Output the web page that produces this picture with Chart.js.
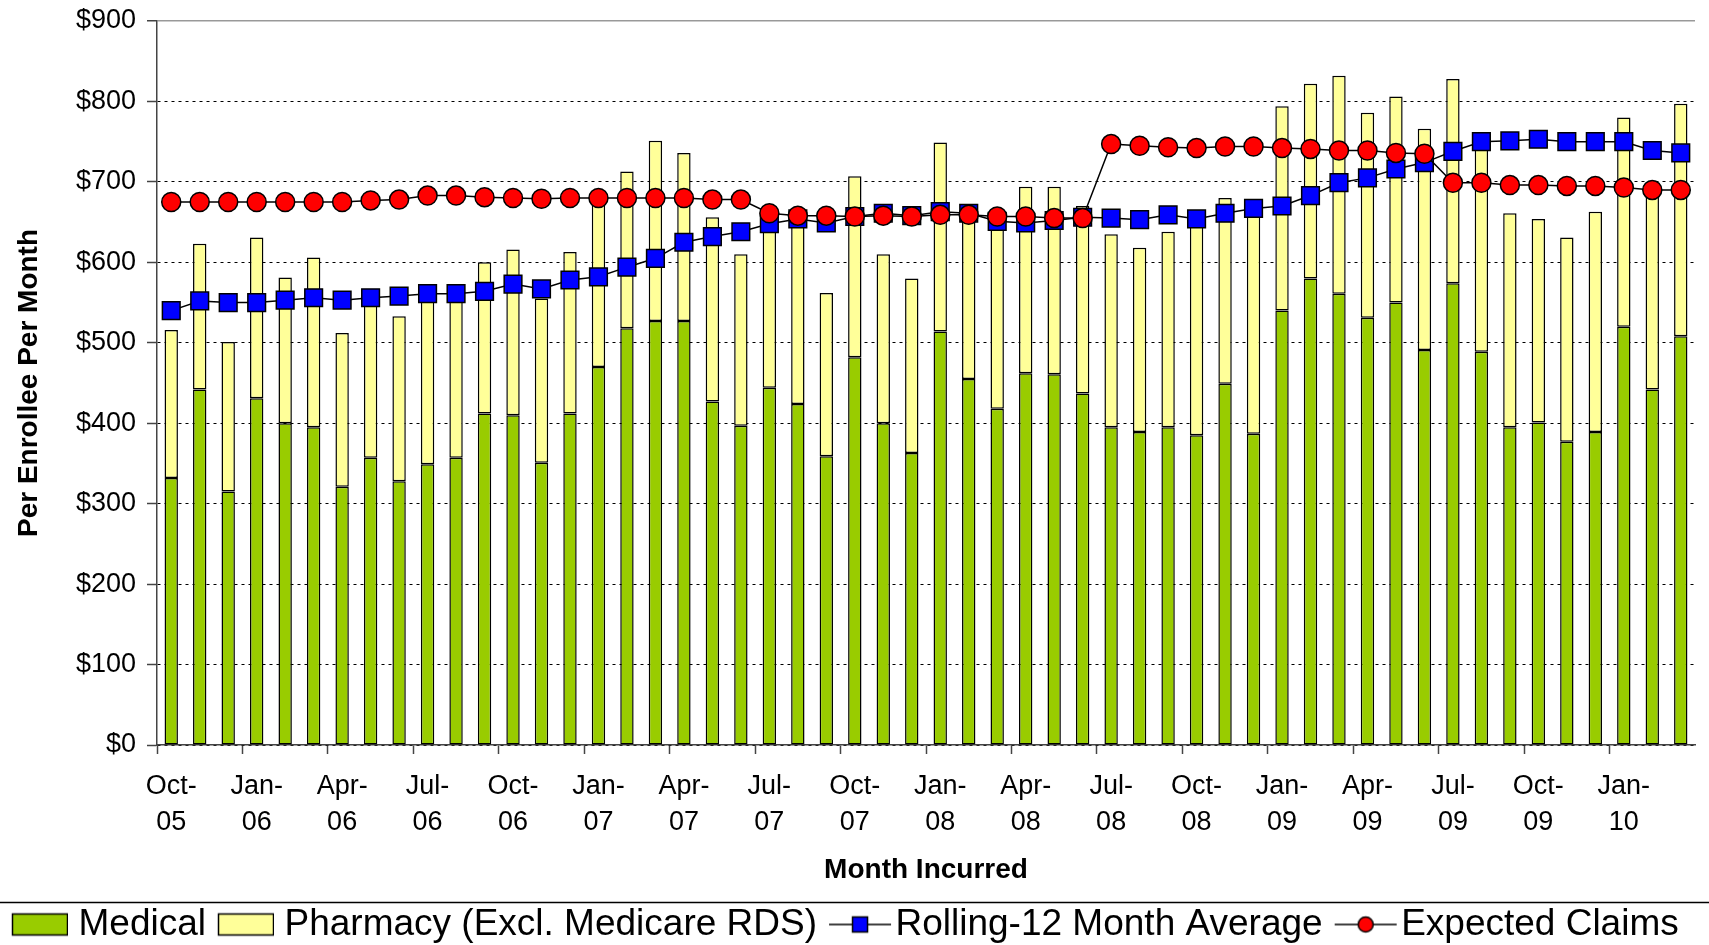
<!DOCTYPE html>
<html>
<head>
<meta charset="utf-8">
<script src="https://cdn.jsdelivr.net/npm/chart.js@4.4.0/dist/chart.umd.min.js"></script>
<style>
  html, body { margin: 0; padding: 0; background: #fff; }
  #wrap { width: 1709px; height: 945px; position: relative; }
</style>
</head>
<body>
<div id="wrap"><canvas id="chart"></canvas></div>
<script>
// Month incurred, Oct-05 .. Mar-10
const months = [
  'Oct-05','Nov-05','Dec-05','Jan-06','Feb-06','Mar-06','Apr-06','May-06','Jun-06',
  'Jul-06','Aug-06','Sep-06','Oct-06','Nov-06','Dec-06','Jan-07','Feb-07','Mar-07',
  'Apr-07','May-07','Jun-07','Jul-07','Aug-07','Sep-07','Oct-07','Nov-07','Dec-07',
  'Jan-08','Feb-08','Mar-08','Apr-08','May-08','Jun-08','Jul-08','Aug-08','Sep-08',
  'Oct-08','Nov-08','Dec-08','Jan-09','Feb-09','Mar-09','Apr-09','May-09','Jun-09',
  'Jul-09','Aug-09','Sep-09','Oct-09','Nov-09','Dec-09','Jan-10','Feb-10','Mar-10'
];

// per enrollee per month, $
const medical = [
  332, 442, 315, 431, 400, 395, 321, 357, 328,
  349, 357, 412, 410, 351, 412, 470, 518, 527,
  527, 427, 397, 444, 424, 359, 482, 400, 363,
  514, 455, 418, 462, 461, 437, 395, 389, 395,
  385, 449, 387, 540, 580, 561, 531, 550, 491,
  574, 489, 395, 401, 377, 389, 520, 442, 508
];
const pharmacy = [
  184, 181, 186, 200, 181, 211, 191, 191, 205,
  206, 199, 188, 206, 204, 201, 208, 195, 224,
  209, 229, 213, 204, 221, 203, 225, 210, 217,
  235, 205, 232, 232, 233, 233, 240, 229, 243,
  263, 231, 273, 254, 242, 271, 255, 256, 275,
  254, 259, 266, 253, 254, 274, 260, 246, 289
];
const rolling12 = [
  540, 552, 550, 550, 553, 556, 553, 556, 558,
  561, 561, 564, 573, 567, 578, 582, 594, 605,
  625, 632, 638, 648, 654, 649, 657, 661, 658,
  663, 661, 651, 649, 652, 656, 655, 653, 659,
  654, 661, 667, 670, 683, 699, 705, 716, 724,
  738, 750, 751, 753, 750, 750, 750, 739, 736
];
const expected = [
  675, 675, 675, 675, 675, 675, 675, 677, 678,
  683, 683, 681, 680, 679, 680, 680, 680, 680,
  680, 678, 678, 661, 658, 658, 657, 658, 657,
  659, 659, 657, 657, 655, 655, 747, 745, 743,
  742, 744, 744, 742, 741, 739, 739, 736, 735,
  699, 699, 696, 696, 695, 695, 693, 690, 690
];

const FONT = "'Liberation Sans', Arial, sans-serif";
Chart.defaults.font.family = FONT;
Chart.defaults.color = '#000';

// little pictures for the legend (box, or line with marker)
function swatch(kind, color) {
  const c = document.createElement('canvas');
  const g = c.getContext('2d');
  if (kind === 'bar') {
    c.width = 64; c.height = 26;
    g.fillStyle = color;
    g.fillRect(8.5, 2.5, 55, 21);
    g.strokeStyle = '#000'; g.lineWidth = 1.5;
    g.strokeRect(8.5, 2.5, 55, 21);
  } else {
    c.width = 80; c.height = 26;
    g.strokeStyle = '#000'; g.lineWidth = 1.5;
    g.beginPath(); g.moveTo(16, 13); g.lineTo(78, 13); g.stroke();
    g.fillStyle = color;
    if (kind === 'rect') {
      g.fillRect(39.5, 5.5, 15, 15); g.strokeRect(39.5, 5.5, 15, 15);
    } else {
      g.beginPath(); g.arc(47, 13, 7.5, 0, 2 * Math.PI); g.fill(); g.stroke();
    }
  }
  return c;
}
const swatches = [
  swatch('bar', '#99CC00'),
  swatch('bar', '#FFFF99'),
  swatch('rect', '#0000FF'),
  swatch('circle', '#FF0000')
];

// top edge of the legend frame
const legendFrame = {
  id: 'legendFrame',
  afterDraw(chart) {
    const ctx = chart.ctx;
    const y = Math.round(chart.legend.top + 8) + 0.5;
    ctx.save();
    ctx.strokeStyle = '#000';
    ctx.lineWidth = 1.5;
    ctx.beginPath();
    ctx.moveTo(0, y);
    ctx.lineTo(chart.width, y);
    ctx.stroke();
    ctx.restore();
  }
};

const isTop = c => !!(c.tick && c.tick.value === 900);

new Chart(document.getElementById('chart'), {
  type: 'bar',
  data: {
    labels: months,
    datasets: [{
      label: 'Medical',
      data: medical,
      backgroundColor: '#99CC00',
      borderColor: '#000',
      borderWidth: 1.5,
      borderSkipped: false,
      stack: 'claims',
      order: 2,
      barPercentage: 0.47,
      categoryPercentage: 1
    }, {
      label: 'Pharmacy (Excl. Medicare RDS)',
      data: pharmacy,
      backgroundColor: '#FFFF99',
      borderColor: '#000',
      borderWidth: 1.5,
      borderSkipped: false,
      stack: 'claims',
      order: 3,
      barPercentage: 0.47,
      categoryPercentage: 1
    }, {
      type: 'line',
      label: 'Rolling-12 Month Average',
      data: rolling12,
      stack: 'rolling',
      order: 1,
      borderColor: '#000',
      borderWidth: 1.5,
      tension: 0,
      fill: false,
      pointStyle: 'rect',
      pointRadius: 12.5,
      pointBackgroundColor: '#0000FF',
      pointBorderColor: '#000',
      pointBorderWidth: 1.5
    }, {
      type: 'line',
      label: 'Expected Claims',
      data: expected,
      stack: 'expected',
      order: 0,
      borderColor: '#000',
      borderWidth: 1.5,
      tension: 0,
      fill: false,
      pointStyle: 'circle',
      pointRadius: 9.5,
      pointBackgroundColor: '#FF0000',
      pointBorderColor: '#000',
      pointBorderWidth: 1.5
    }]
  },
  options: {
    responsive: true,
    maintainAspectRatio: false,
    animation: false,
    layout: { padding: { top: 21, bottom: -8, left: 0, right: 0 } },
    plugins: {
      tooltip: { enabled: false },
      legend: {
        position: 'bottom',
        align: 'start',
        labels: {
          usePointStyle: true,
          pointStyleWidth: 48,
          padding: 12,
          color: '#000',
          font: { size: 37 },
          sort: (a, b) => a.datasetIndex - b.datasetIndex,
          generateLabels(chart) {
            const items = Chart.defaults.plugins.legend.labels.generateLabels(chart);
            items.forEach(it => { it.pointStyle = swatches[it.datasetIndex]; });
            return items;
          }
        }
      }
    },
    scales: {
      x: {
        stacked: true,
        offset: true,
        border: { display: true, color: '#444', width: 1.5 },
        grid: {
          offset: true,
          drawOnChartArea: false,
          drawTicks: true,
          tickLength: 9,
          tickWidth: 1.5,
          tickColor: c => (c.index % 3 === 0 ? '#444' : 'rgba(0,0,0,0)')
        },
        ticks: {
          autoSkip: false,
          maxRotation: 0,
          minRotation: 0,
          padding: 15,
          color: '#000',
          font: { size: 27, lineHeight: 1.33 },
          callback(value, index) {
            if (index % 3 !== 0) return '';
            const m = months[index];
            return [m.slice(0, 4), m.slice(4)];
          }
        },
        title: {
          display: true,
          text: 'Month Incurred',
          color: '#000',
          font: { size: 28, weight: 'bold', lineHeight: 1.2 },
          padding: { top: 0, bottom: 7 }
        },
        afterFit(scale) { scale.height = 149; }
      },
      y: {
        stacked: true,
        min: 0,
        max: 900,
        // in v4 the dash of the grid lines is read from border.dash
        border: {
          display: true,
          color: '#444',
          width: 1.5,
          dash: c => (c.tick && !isTop(c) ? [3, 4] : [])
        },
        grid: {
          color: c => (isTop(c) ? '#999' : '#000'),
          lineWidth: c => (isTop(c) ? 1.5 : 1),
          tickColor: '#444',
          tickWidth: 1.5,
          tickLength: 10,
          tickBorderDash: []
        },
        ticks: {
          stepSize: 100,
          padding: 11,
          color: '#000',
          font: { size: 27 },
          callback: v => '$' + v
        },
        title: {
          display: true,
          text: 'Per Enrollee Per Month',
          color: '#000',
          font: { size: 28, weight: 'bold', lineHeight: 1.2 },
          padding: { top: 12, bottom: 0 }
        },
        afterFit(scale) {
          scale.width = 157;
          scale.paddingTop = 0;
          scale.paddingBottom = 0;
        }
      }
    }
  },
  plugins: [legendFrame]
});
</script>
</body>
</html>
